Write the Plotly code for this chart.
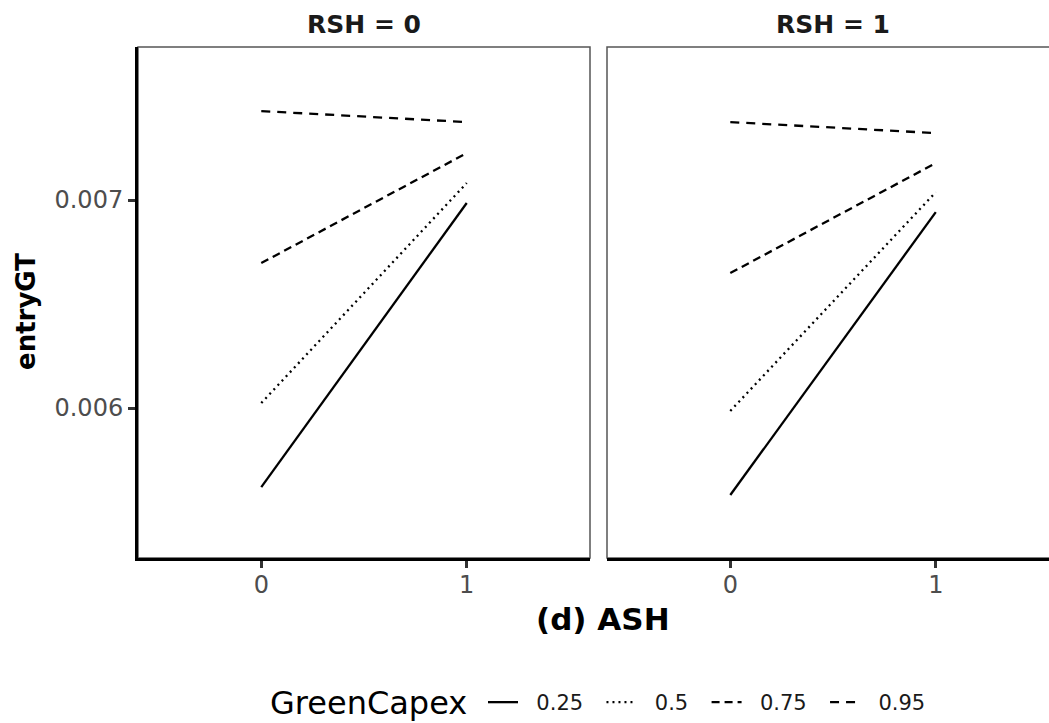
import plotly.graph_objects as go

ash = [0, 1]
capex_levels = ["0.25", "0.5", "0.75", "0.95"]
# entryGT values, panel RSH = 0
rsh0 = {
    "0.25": [0.005620, 0.006986],
    "0.5": [0.006024, 0.007082],
    "0.75": [0.006697, 0.007226],
    "0.95": [0.007428, 0.007375],
}
# entryGT values, panel RSH = 1
rsh1 = {
    "0.25": [0.005582, 0.006942],
    "0.5": [0.005986, 0.007038],
    "0.75": [0.006649, 0.007178],
    "0.95": [0.007375, 0.007322],
}
panel_titles = ["RSH = 0", "RSH = 1"]
y_ticks = [0.006, 0.007]
y_ticklabels = ["0.006", "0.007"]

dashes = {"0.25": "solid", "0.5": "2px,4px", "0.75": "8px,5px", "0.95": "9px,7px"}

FONT = "DejaVu Sans"
NB = "\u00a0\u00a0"
fig = go.Figure()
for i, data in enumerate([rsh0, rsh1]):
    xa = "x" if i == 0 else "x2"
    ya = "y" if i == 0 else "y2"
    for lev in capex_levels:
        fig.add_trace(go.Scatter(
            x=ash, y=data[lev], mode="lines", xaxis=xa, yaxis=ya,
            name=NB + lev + NB, legendgroup=lev, showlegend=(i == 0),
            line=dict(color="black", width=2.3, dash=dashes[lev]),
        ))

W, H = 1049, 723
L, R, T, B = 138, 0, 47, 165
pw = W - L - R
ph = H - T - B

tickfont = dict(size=24, color="#4d4d4d", family=FONT)
yr = [0.005279, 0.007736]
common_x = dict(tickvals=ash, ticktext=[str(v) for v in ash],
                showgrid=False, zeroline=False, showline=True, linecolor="black",
                linewidth=3, ticks="outside", ticklen=7, tickwidth=2.5,
                tickcolor="#333333", tickfont=tickfont, automargin=False,
                ticklabelstandoff=-4)
fig.update_layout(
    template="none",
    width=W, height=H,
    margin=dict(l=L, r=R, t=T, b=B),
    plot_bgcolor="white", paper_bgcolor="white",
    font=dict(family=FONT, color="#1a1a1a"),
    xaxis=dict(domain=[0, 452 / pw], range=[-0.6, 1.6], **common_x),
    xaxis2=dict(domain=[469 / pw, 1], range=[-0.6, 1.551], anchor="y2", **common_x),
    yaxis=dict(range=yr, tickvals=y_ticks, ticktext=y_ticklabels,
               showgrid=False, zeroline=False, showline=True, linecolor="black",
               linewidth=3, ticks="outside", ticklen=7, tickwidth=2.5, tickcolor="#333333",
               tickfont=tickfont, automargin=False),
    yaxis2=dict(range=yr, anchor="x2", matches="y", showticklabels=False,
                showgrid=False, zeroline=False, showline=False, ticks="", automargin=False),
    showlegend=True,
    legend=dict(orientation="h", x=(483 - L) / pw, xanchor="left", y=-(703 - 558) / ph,
                yanchor="middle", font=dict(size=21, family=FONT, color="#1a1a1a"),
                itemwidth=30, bgcolor="rgba(0,0,0,0)", tracegroupgap=0),
)

# panel borders (thin grey)
fig.add_shape(type="rect", xref="x domain", yref="y domain", x0=0, x1=1, y0=0, y1=1,
              line=dict(color="#555555", width=1.5), layer="below")
fig.add_shape(type="rect", xref="x2 domain", yref="y2 domain", x0=0, x1=1.2, y0=0, y1=1,
              line=dict(color="#555555", width=1.5), layer="below")

for i, t in enumerate(panel_titles):
    xr = "x domain" if i == 0 else "x2 domain"
    c = 0.5 if i == 0 else (452 / 2) / 442
    fig.add_annotation(text=f"<b>{t}</b>", xref=xr, yref="paper", x=c, y=1,
                       yanchor="middle", yshift=23, showarrow=False,
                       font=dict(size=25, family=FONT, color="#1a1a1a"))

fig.add_annotation(text="<b>(d) ASH</b>", xref="paper", yref="paper",
                   x=(602.5 - L) / pw, y=-(619 - 558) / ph, yanchor="middle",
                   showarrow=False, font=dict(size=31, family=FONT, color="black"))
fig.add_annotation(text="<b>entryGT</b>", xref="paper", yref="paper",
                   x=(26 - L) / pw, y=(558 - 312) / ph, textangle=-90, xanchor="center",
                   yanchor="middle",
                   showarrow=False, font=dict(size=26, family=FONT, color="black"))
fig.add_annotation(text="GreenCapex", xref="paper", yref="paper",
                   x=(268 - L) / pw, xanchor="left", y=-(703 - 558) / ph, yanchor="middle",
                   showarrow=False, font=dict(size=32, family=FONT, color="black"))

fig.write_html("out.html", config={"displayModeBar": False},
               post_script="document.body.style.margin='0';")
